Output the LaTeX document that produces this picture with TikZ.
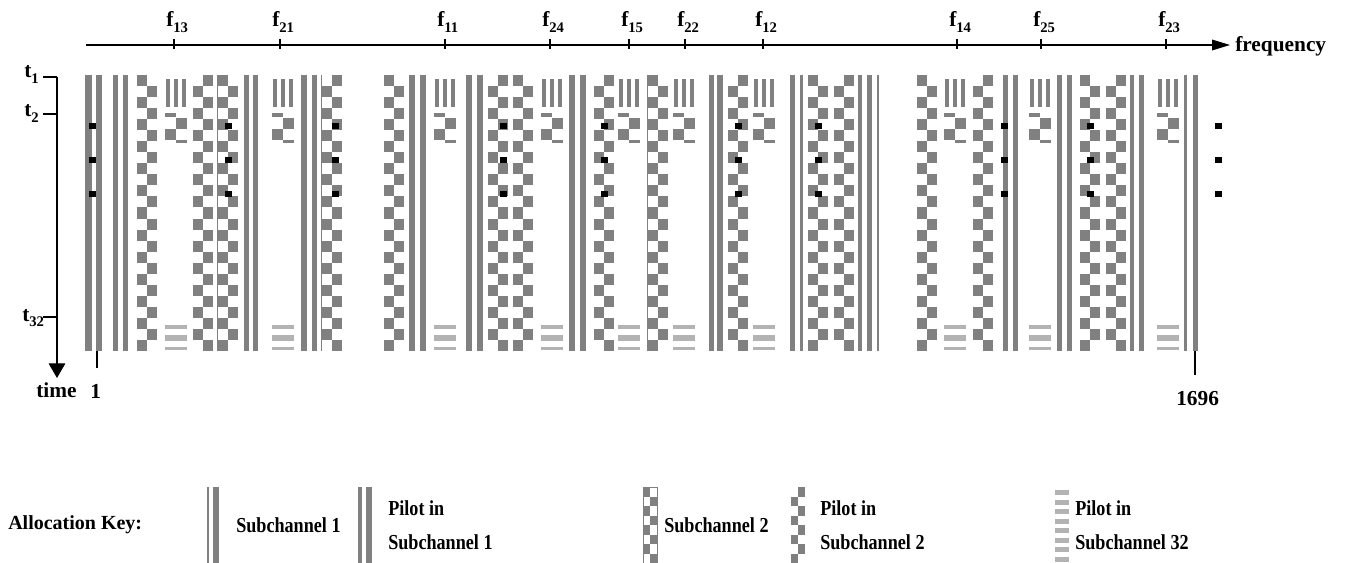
\documentclass[tikz,border=0pt]{standalone}
\usepackage{fontspec}
\setmainfont{Liberation Serif}
\usetikzlibrary{arrows.meta}
\definecolor{gr}{HTML}{808080}
\definecolor{lgr}{HTML}{B3B3B3}
\newcommand\cnd[1]{\scalebox{0.85}[1]{#1}}
\begin{document}
\begin{tikzpicture}[x=0.75pt,y=-0.75pt,
  lbl/.style={inner sep=0, font=\bfseries\fontsize{16}{18}\selectfont},
  axis/.style={line width=0.9pt},
  tick/.style={line width=0.8pt}]
\useasboundingbox (0,0) rectangle (1345,563);
% ---- vertical bars (subchannel 1)
\foreach \x/\w in {85/7,96/6,113/5,123/5,244/5,253/5,301/6,312/5,409/6,420/6,466/6,477/6,569/6,580/6,709/5,717/6,790/5,800/3,858/4,867/5,877/1.5,1003/5,1013/5,1057/5,1067/5,1130/4,1139/5,1184/3,1193/5}
  \fill[gr] (\x,75) rectangle ++(\w,276);
% ---- checkers (subchannel 2)
\foreach \x/\p in {137/0,193/1,218/0,322/1,384/0,488/1,513/0,594/1,648/0,728/1,808/0,834/1,917/0,973/1,1080/0,1106/1}{
  \foreach \r in {0,...,24}{
    \pgfmathsetmacro\cx{\x+10*mod(\r+\p,2)}
    \fill[gr] (\cx,{75+11.04*\r}) rectangle ++(10,11.04);
  }
}
\foreach \x in {218,322,648}
  \fill[gr] (\x-1.5,75) rectangle ++(1.2,276);
% ---- short patterns (subchannel 32)
\foreach \x in {165,272,434,541,618,673,753,944,1029,1157}{
  \foreach \d in {1,9,17} \fill[gr] (\x+\d,79) rectangle ++(3.5,28);
  \fill[gr] (\x,113) rectangle ++(11,4);
  \fill[gr] (\x+11,118) rectangle ++(11,11);
  \fill[gr] (\x,129) rectangle ++(11,11);
  \fill[gr] (\x+11,140) rectangle ++(11,3);
  \fill[lgr] (\x,325) rectangle ++(22,4);
  \fill[lgr] (\x,335) rectangle ++(22,6);
  \fill[lgr] (\x,347) rectangle ++(22,2.5);
}
% ---- pilot dots
\foreach \x in {92.5,228,335.5,503.5,604.5,738.5,818.5,1004.5,1090.5,1218.5}
  \foreach \y in {126,160,194}
    \fill[black] (\x-3.5,\y-3) rectangle ++(7,6);
% ---- frequency axis
\coordinate (fa) at (86,45);
\coordinate (fb) at (1230,45);
\draw[axis,-{Triangle[length=13.5pt,width=8pt]}] (fa) -- (fb);
\node[lbl,anchor=base west] (freq) at (1235,52) {frequency};
\foreach \x/\l in {174/13,280/21,445/11,550/24,629/15,685/22,763/12,957/14,1041/25,1166/23}{
  \draw[tick] (\x,39) -- (\x,49);
  \node[lbl,anchor=base west] (f\l) at (\x-8,27) {f\raisebox{-4.5pt}{\fontsize{11}{11}\selectfont\l}};
}
% ---- time axis
\coordinate (ta) at (57,77);
\coordinate (tb) at (57,378);
\draw[axis,-{Triangle[length=11pt,width=12.5pt]}] (ta) -- (tb);
\foreach \y/\n in {77/1,114/2,317/32}{
  \draw[tick] (43,\y) -- (57,\y);
}
\node[lbl,anchor=base west] (t1) at (24,78) {t\raisebox{-4pt}{\fontsize{11}{11}\selectfont 1}};
\node[lbl,anchor=base west] (t2) at (24,117) {t\raisebox{-4pt}{\fontsize{11}{11}\selectfont 2}};
\node[lbl,anchor=base west] (t32) at (22,321) {t\raisebox{-4pt}{\fontsize{11}{11}\selectfont 32}};
\node[lbl,anchor=base west] (time) at (36,397) {time};
\draw[tick] (97,351) -- (97,368);
\node[lbl,anchor=base west] (one) at (90,398) {1};
\draw[tick] (1195,351) -- (1195,375);
\node[lbl,anchor=base west] (last) at (1176,405) {1696};
% ---- allocation key
\node[lbl,anchor=west,font=\bfseries\fontsize{15}{18}\selectfont] (key) at (8,525) {Allocation Key:};
\fill[gr] (207,487) rectangle ++(2,76);
\fill[gr] (213,487) rectangle ++(6,76);
\node[lbl,anchor=west] (k1) at (236,525) {\cnd{Subchannel 1}};
\fill[gr] (358,487) rectangle ++(4,76);
\fill[gr] (366,487) rectangle ++(6,76);
\node[lbl,anchor=west] (k2a) at (388,508) {\cnd{Pilot in}};
\node[lbl,anchor=west] (k2b) at (388,542) {\cnd{Subchannel 1}};
\foreach \r in {0,...,7}{
  \pgfmathsetmacro\cx{643+7*mod(\r,2)}
  \fill[gr] (\cx,{487+9.5*\r}) rectangle ++(7,9.5);
}
\draw[gr,line width=0.4pt] (643,487) rectangle (657,563);
\node[lbl,anchor=west] (k3) at (664,525) {\cnd{Subchannel 2}};
\foreach \r in {0,...,7}{
  \pgfmathsetmacro\cx{791+7*mod(\r+1,2)}
  \fill[gr] (\cx,{487+9.5*\r}) rectangle ++(7,9.5);
}
\node[lbl,anchor=west] (k4a) at (820,508) {\cnd{Pilot in}};
\node[lbl,anchor=west] (k4b) at (820,542) {\cnd{Subchannel 2}};
\foreach \r in {0,...,7}
  \fill[lgr] (1055,{490+9.5*\r}) rectangle ++(14,5);
\node[lbl,anchor=west] (k5a) at (1075,508) {\cnd{Pilot in}};
\node[lbl,anchor=west] (k5b) at (1075,542) {\cnd{Subchannel 32}};
\end{tikzpicture}
\end{document}
